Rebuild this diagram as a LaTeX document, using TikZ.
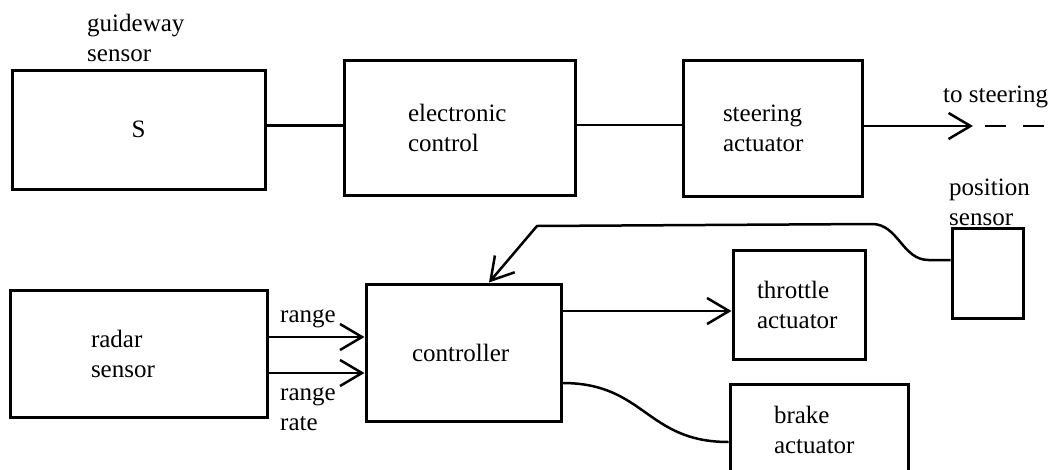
\documentclass[tikz,border=0pt]{standalone}
\usepackage{fontspec}
\setmainfont{Liberation Serif}
\usepackage{tikz}
\usetikzlibrary{positioning,arrows.meta}

\begin{document}
\begin{tikzpicture}[x=1pt,y=-1pt,font=\fontsize{25}{30}\selectfont,
      blk/.style={draw,line width=3pt,align=left,inner sep=0pt},
      lbl/.style={anchor=west,align=left,inner sep=0pt},
      wire/.style={line width=2.5pt},
      arr/.style={wire,-{Straight Barb[length=22pt,width=26pt]}}]
    \useasboundingbox (0,0) rectangle (1052,469);
    \node[blk,minimum width=253pt,minimum height=119pt] (guide) at (138.5,129.5) {S};
    \node[blk,minimum width=231pt,minimum height=135pt,text width=103pt] (elec) at (459.5,127.5) {electronic\\control};
    \node[blk,minimum width=179pt,minimum height=136pt,text width=99pt] (steer) at (772.5,128) {steering\\actuator};
    \node[blk,minimum width=257pt,minimum height=127pt,text width=95pt] (radar) at (138.5,353.5) {radar\\sensor};
    \node[blk,minimum width=195pt,minimum height=137pt,text width=103pt] (ctrl) at (463.5,352.5) {controller};
    \node[blk,minimum width=132pt,minimum height=109pt,text width=84pt] (thr) at (799,304.5) {throttle\\actuator};
    \node[blk,minimum width=178pt,minimum height=92pt,text width=90pt] (brake) at (819,430) {brake\\actuator};
    \node[blk,minimum width=71pt,minimum height=90pt] (pos) at (987.5,273) {};
    \node[lbl] (guidelbl) at (87,38) {guideway\\sensor};
    \node[lbl] (poslbl) at (949,202.5) {position\\sensor};
    \node[lbl] (steerlbl) at (943,97) {to steering};
    \node[lbl] (rangelbl) at (280,319) {range};
    \node[lbl] (ratelbl) at (280,409) {range\\rate};
    \coordinate (steertip) at (973,126);
    \coordinate (dashstart) at (985,126);
    \coordinate (dashend) at (1048,126);
    \coordinate (fbtop) at (872,224);
    \coordinate (fbturn) at (537,226);
    \draw[wire] ([yshift=4pt]guide.east) -- ([yshift=4pt]guide.east -| elec.west);
    \draw[wire] ([yshift=2.5pt]elec.east) -- ([yshift=2.5pt]elec.east -| steer.west);
    \draw[arr] ([yshift=2pt]steer.east) -- (steertip);
    \draw[wire,dash pattern=on 21pt off 17pt] (dashstart) -- (dashend);
    \draw[arr] ([yshift=16.5pt]radar.east) -- ([yshift=16.5pt]radar.east -| ctrl.west);
    \draw[arr] ([yshift=-19.5pt]radar.east) -- ([yshift=-19.5pt]radar.east -| ctrl.west);
    \draw[arr] ([yshift=41.5pt]ctrl.east) -- ([yshift=41.5pt]ctrl.east -| thr.west);
    \draw[wire] ([yshift=-30.5pt]ctrl.east) to[out=0,in=180,looseness=1.2] ([yshift=-12pt]brake.west);
    \draw[arr] ([yshift=13pt]pos.west) -- ++(-22,0) to[out=180,in=0] (fbtop) -- (fbturn) -- ([xshift=25.5pt]ctrl.north);
  \end{tikzpicture}
\end{document}
